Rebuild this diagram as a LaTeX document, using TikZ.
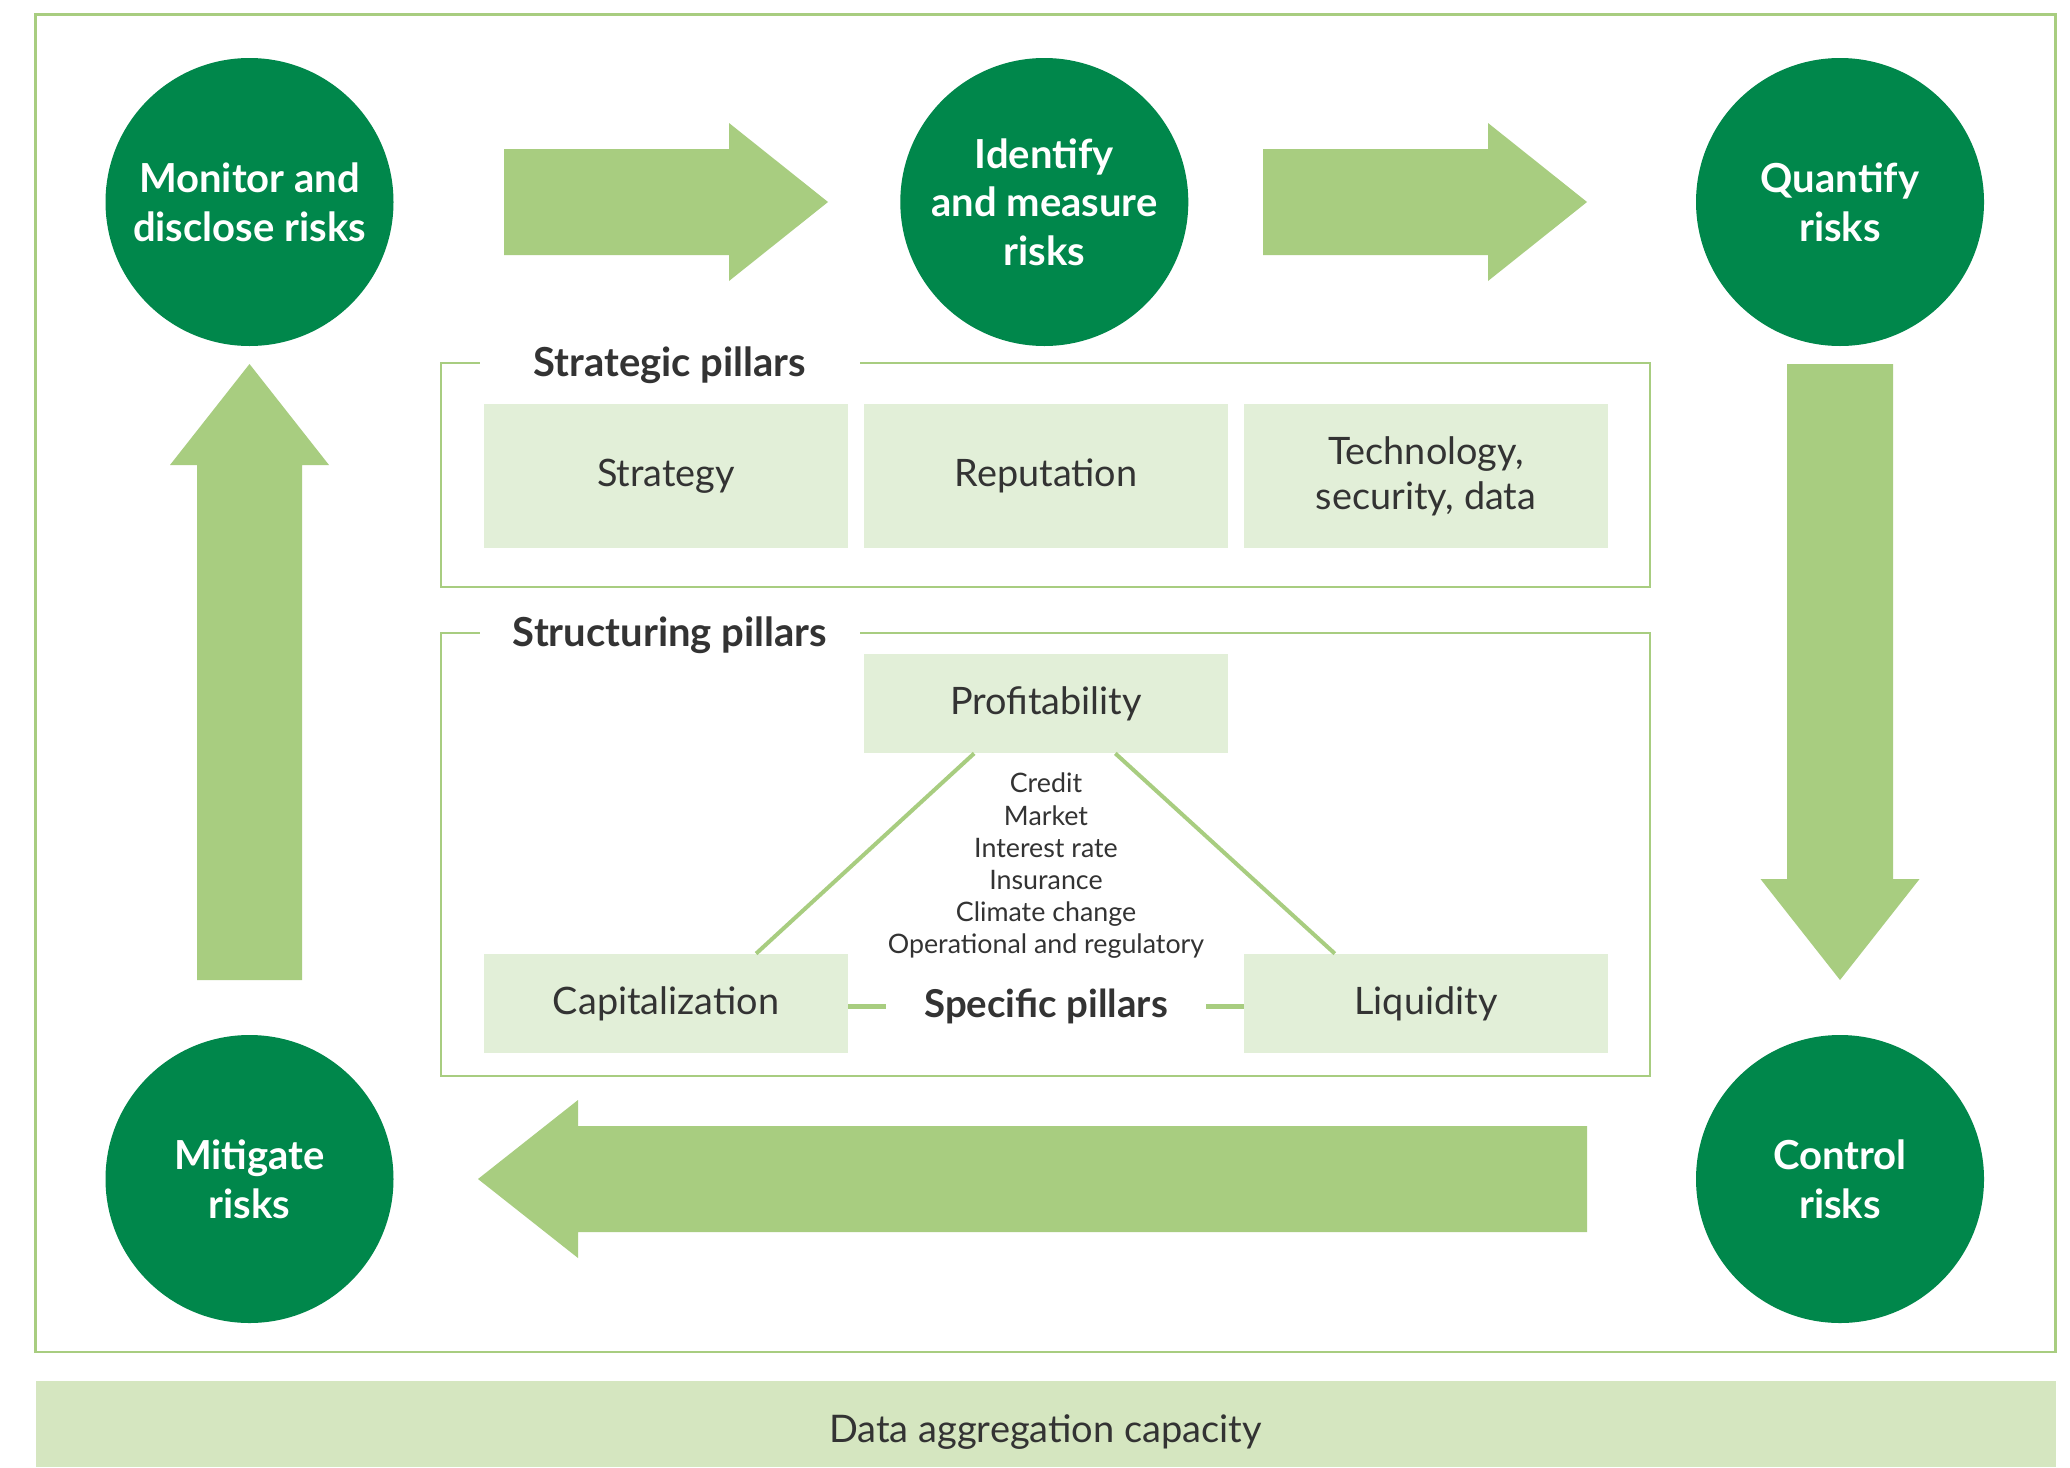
\documentclass[tikz,border=0pt]{standalone}
\usepackage{fontspec}
\setmainfont{Lato}
\usetikzlibrary{calc}
\definecolor{dgreen}{RGB}{0,135,75}
\definecolor{lgreen}{RGB}{168,205,128}
\definecolor{boxfill}{RGB}{226,239,216}
\definecolor{bandfill}{RGB}{213,230,192}
\definecolor{txt}{RGB}{51,51,51}
\begin{document}
\begin{tikzpicture}[x=0.5pt,y=-0.5pt,
  riskcircle/.style={circle,fill=dgreen,minimum size=144pt,inner sep=0pt,text=white,
    font=\fontsize{20}{24.3}\selectfont\bfseries,align=center},
  pillar/.style={rectangle,fill=boxfill,minimum width=182pt,minimum height=72pt,inner sep=0pt,
    text=txt,font=\fontsize{18.9}{22.5}\selectfont,align=center},
  grouptitle/.style={text=txt,font=\fontsize{20}{24}\selectfont\bfseries,minimum width=190pt,inner sep=0pt},
  bigarrow/.style={fill=lgreen},
  frameline/.style={draw=lgreen,line width=1.2pt},
  triline/.style={draw=lgreen,line width=2pt},
  specline/.style={draw=lgreen,line width=2.5pt},
]
\useasboundingbox (0,0) rectangle (2070,1467);
\fill[white] (0,0) rectangle (2070,1467);

% outer frame and bottom band
\node[draw=lgreen,line width=1.2pt,minimum width=1010pt,minimum height=668.75pt,inner sep=0pt] (outer) at (1045.6,683.25) {};
\node[fill=bandfill,minimum width=1010pt,minimum height=43pt,inner sep=0pt] (band) at (1045.6,1424) {};
\node[text=txt,font=\fontsize{19}{22}\selectfont,inner sep=0pt] (bandtext) at (1045.6,1432) {Data aggregation capacity};

% circles
\node[riskcircle] (monitor) at (249.5,202) {Monitor and\\disclose risks};
\node[riskcircle] (identify) at (1044.3,202) {Identify\\and measure\\risks};
\node[riskcircle] (quantify) at (1840,202) {Quantify\\risks};
\node[riskcircle] (control) at (1840,1179) {Control\\risks};
\node[riskcircle] (mitigate) at (249.5,1179) {Mitigate\\risks};

% big arrows
\fill[bigarrow] (504,149) -- (729,149) -- (729,123) -- (828,202) -- (729,281) -- (729,255) -- (504,255) -- cycle;
\fill[bigarrow] (1263,149) -- (1488,149) -- (1488,123) -- (1587,202) -- (1488,281) -- (1488,255) -- (1263,255) -- cycle;
\fill[bigarrow] (1787,364) -- (1893,364) -- (1893,879) -- (1919.5,879) -- (1840,980) -- (1760.5,879) -- (1787,879) -- cycle;
\fill[bigarrow] (1587,1126) -- (578,1126) -- (578,1100) -- (478,1179) -- (578,1258) -- (578,1232) -- (1587,1232) -- cycle;
\fill[bigarrow] (197,980) -- (197,465) -- (170,465) -- (249.5,364) -- (329,465) -- (302,465) -- (302,980) -- cycle;

% strategic pillars
\node[grouptitle] (stitle) at (670,365) {Strategic pillars};
\draw[frameline] (stitle.east |- 0,363) -- (1650,363) -- (1650,587) -- (441,587) -- (441,363) -- (stitle.west |- 0,363);
\node[pillar] (strategy) at (666,476) {Strategy};
\node[pillar] (reputation) at (1046,476) {Reputation};
\node[pillar] (technology) at (1426,476) {Technology,\\security, data};

% structuring pillars
\node[grouptitle] (ctitle) at (670,635) {Structuring pillars};
\draw[frameline] (ctitle.east |- 0,633) -- (1650,633) -- (1650,1076) -- (441,1076) -- (441,633) -- (ctitle.west |- 0,633);
\node[pillar,minimum height=49.5pt] (prof) at (1046,703.5) {Profitability};
\node[pillar,minimum height=49.5pt] (cap) at (666,1003.5) {Capitalization};
\node[pillar,minimum height=49.5pt] (liq) at (1426,1003.5) {Liquidity};

\draw[triline] ($(prof.south west)!0.303!(prof.south east)$) -- ($(cap.north west)!0.747!(cap.north east)$);
\draw[triline] ($(prof.south west)!0.69!(prof.south east)$) -- ($(liq.north west)!0.25!(liq.north east)$);

\node[text=txt,font=\fontsize{13.4}{16.1}\selectfont,align=center] (risks) at (1046,866)
  {Credit\\Market\\Interest rate\\Insurance\\Climate change\\Operational and regulatory};

\node[text=txt,font=\fontsize{19.2}{22}\selectfont\bfseries,minimum width=160pt,inner sep=0pt] (spec) at (1046,1006) {Specific pillars};
\draw[specline] (cap.east |- spec.west) -- (spec.west);
\draw[specline] (spec.east) -- (liq.west |- spec.east);
\end{tikzpicture}
\end{document}
